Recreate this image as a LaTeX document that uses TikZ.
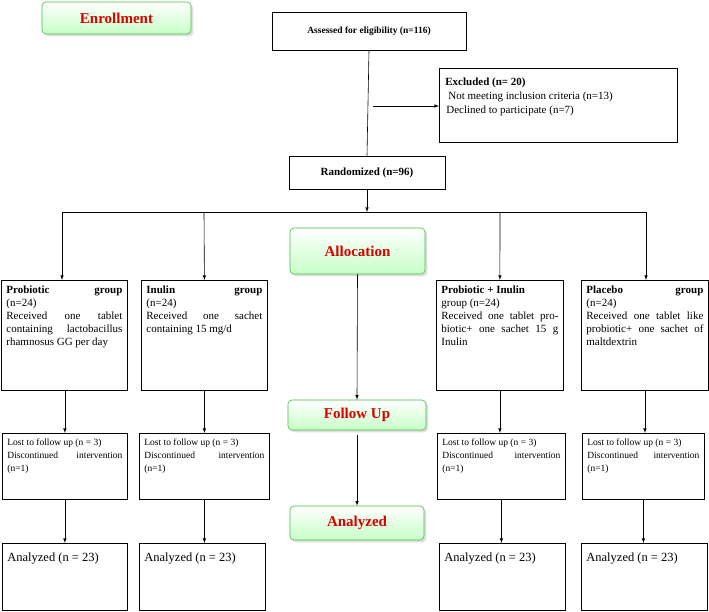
\documentclass[tikz,border=0pt]{standalone}
\usepackage{fontspec}
\setmainfont{Liberation Serif}
\usetikzlibrary{positioning,shadows}
\newcommand{\boxtext}[3]{\parbox[t][#2][t]{#1}{\raggedright\spaceskip=0.25em plus 1.2em\rightskip=0pt\parfillskip=0pt plus 1fil\relax #3}}
\begin{document}
\begin{tikzpicture}[x=1pt,y=-1pt,
                    stagebox/.style={rectangle, rounded corners=4pt, draw=green!45!gray, top color=white, bottom color=green!22, drop shadow={opacity=0.25}, text=red!85!black, font=\bfseries\fontsize{15}{17}\selectfont},
                    plainbox/.style={rectangle, draw, thick, inner sep=0pt},
                    groupbox/.style={rectangle, draw, thick, anchor=north west, inner sep=5pt, font=\fontsize{11}{13}\selectfont},
                    lostbox/.style={rectangle, draw, thick, anchor=north west, inner sep=5pt, font=\fontsize{9.5}{13}\selectfont},
                    anabox/.style={rectangle, draw, thick, anchor=north west, inner sep=5pt, font=\fontsize{12.5}{14}\selectfont},
                    >=latex, semithick
                   ]
  \useasboundingbox (0,0) rectangle (709,611);
  % Stages
  \node[stagebox, minimum width=149pt, minimum height=32pt] (enroll)   at (116.5,18)  {Enrollment};
  \node[stagebox, minimum width=135pt, minimum height=46pt] (alloc)    at (357.5,251) {Allocation};
  \node[stagebox, minimum width=138pt, minimum height=30pt] (follow)   at (357,415)   {Follow Up};
  \node[stagebox, minimum width=134pt, minimum height=34pt] (analyzed) at (357,523)   {Analyzed};

  % Top boxes
  \node[plainbox, minimum width=194pt, minimum height=38pt, font=\bfseries\fontsize{9.5}{11}\selectfont] (assessed) at (369,31) {Assessed for eligibility (n=116)};
  \node[plainbox, minimum width=238pt, minimum height=74pt, anchor=north west, font=\fontsize{11}{14}\selectfont] (excluded) at (439,68)
       {\parbox[t][66pt][t]{226pt}{\vspace{5pt}\textbf{Excluded (n= 20)}\\\hspace*{3pt}Not meeting inclusion criteria (n=13)\\\hspace*{1pt}Declined to participate (n=7)}};
  \node[plainbox, minimum width=156pt, minimum height=33pt, font=\bfseries\fontsize{11}{13}\selectfont] (random) at (367,172.5) {Randomized (n=96)};
  \coordinate (exc_from) at (373,106);
  \coordinate (split) at (367,212);
  \coordinate (split_w) at (62,212);
  \coordinate (split_e) at (646,212);

  % Groups
  \node[groupbox] (g_pro) at (1,280)   {\boxtext{116pt}{100pt}{\textbf{Probiotic}\hfill\textbf{group}\\(n=24)\\Received one tablet containing lactobacillus rhamnosus GG per day\par}};
  \node[groupbox] (g_inu) at (141,280) {\boxtext{116pt}{100pt}{\textbf{Inulin}\hfill\textbf{group}\\(n=24)\\Received one sachet containing 15 mg/d\par}};
  \node[groupbox] (g_pi)  at (436,280) {\boxtext{117pt}{100pt}{\textbf{Probiotic + Inulin}\\group (n=24)\\Received one tablet probiotic+ one sachet 15~g Inulin\par}};
  \node[groupbox] (g_pla) at (581,280) {\boxtext{117pt}{100pt}{\textbf{Placebo}\hfill\textbf{group}\\(n=24)\\Received one tablet like probiotic+ one sachet of maltdextrin\par}};

  % Lost to follow up
  \node[lostbox] (l_pro) at (2,433)   {\boxtext{115pt}{56pt}{Lost to follow up (n = 3)\\Discontinued intervention (n=1)\par}};
  \node[lostbox] (l_inu) at (139,433) {\boxtext{120pt}{56pt}{Lost to follow up (n = 3)\\Discontinued intervention (n=1)\par}};
  \node[lostbox] (l_pi)  at (437,433) {\boxtext{118pt}{56pt}{Lost to follow up (n = 3)\\Discontinued intervention (n=1)\par}};
  \node[lostbox] (l_pla) at (582,433) {\boxtext{112pt}{56pt}{Lost to follow up (n = 3)\\Discontinued intervention (n=1)\par}};

  % Analyzed
  \node[anabox] (a_pro) at (2,543)   {\boxtext{115pt}{57pt}{\vspace{4pt}Analyzed (n = 23)\par}};
  \node[anabox] (a_inu) at (139,543) {\boxtext{116pt}{57pt}{\vspace{4pt}Analyzed (n = 23)\par}};
  \node[anabox] (a_pi)  at (439,543) {\boxtext{116pt}{57pt}{\vspace{4pt}Analyzed (n = 23)\par}};
  \node[anabox] (a_pla) at (581,543) {\boxtext{116pt}{57pt}{\vspace{4pt}Analyzed (n = 23)\par}};

  % Lines
  \draw (assessed.south) -- (random.north);
  \draw[->] (exc_from) -- (excluded.west |- exc_from);
  \draw[->] (random.south) -- (split);
  \draw[thick] (split_w) -- (split_e);
  \draw[->] (split_w) -- (split_w |- g_pro.north);
  \draw[->] (204,212) -- (g_inu.north);
  \draw[->] (500,212) -- (g_pi.north);
  \draw[->] (split_e) -- (split_e |- g_pla.north);
  \draw[->] (alloc.south) -- (follow.north);
  \draw[->] (follow.south) ++(0,5) -- (analyzed.north);
  \draw[->] (g_pro.south -| l_pro.north) -- (l_pro.north);
  \draw[->] (g_inu.south) -- (g_inu.south |- l_inu.north);
  \draw[->] (g_pi.south) -- (g_pi.south |- l_pi.north);
  \draw[->] (g_pla.south) -- (g_pla.south |- l_pla.north);
  \draw[->] (l_pro.south) -- (l_pro.south |- a_pro.north);
  \draw[->] (l_inu.south) -- (l_inu.south |- a_inu.north);
  \draw[->] (l_pi.south) -- (l_pi.south |- a_pi.north);
  \draw[->] (l_pla.south) -- (l_pla.south |- a_pla.north);
\end{tikzpicture}
\end{document}
